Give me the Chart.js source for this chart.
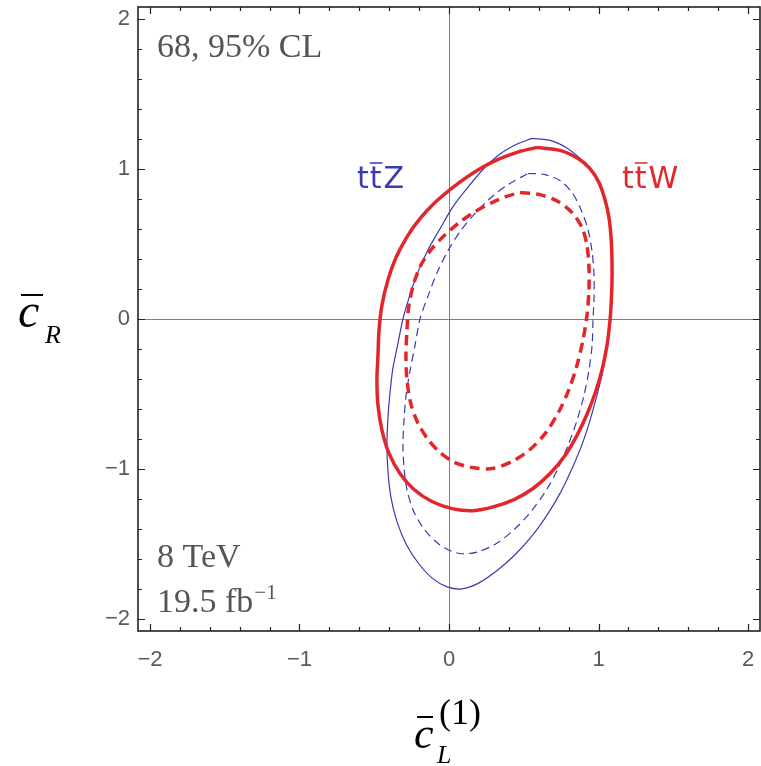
<!DOCTYPE html>
<html>
<head>
<meta charset="utf-8">
<script src="https://cdn.jsdelivr.net/npm/chart.js@4"></script>
<style>
  html, body { margin: 0; padding: 0; background: #fff; }
  #c { display: block; }
</style>
</head>
<body>
<canvas id="c" width="761" height="766"></canvas>
<script>
// contour points, [cL, cR]
const ttW95 = [[0.589,1.144],[0.742,1.124],[0.863,1.070],[0.943,1.003],[1.003,0.910],[1.043,0.796],[1.070,0.676],[1.084,0.542],[1.090,0.395],[1.090,0.247],[1.084,0.094],[1.077,-0.007],[1.057,-0.174],[1.023,-0.341],[0.977,-0.495],[0.923,-0.635],[0.856,-0.776],[0.776,-0.910],[0.676,-1.030],[0.562,-1.130],[0.435,-1.204],[0.301,-1.251],[0.161,-1.278],[0.020,-1.264],[-0.114,-1.217],[-0.234,-1.137],[-0.328,-1.030],[-0.401,-0.896],[-0.448,-0.742],[-0.475,-0.575],[-0.482,-0.408],[-0.475,-0.241],[-0.468,-0.074],[-0.448,0.094],[-0.408,0.261],[-0.355,0.408],[-0.281,0.548],[-0.194,0.669],[-0.087,0.783],[0.033,0.883],[0.167,0.977],[0.314,1.057],[0.475,1.117]];
const ttW68 = [[0.475,0.843],[0.609,0.829],[0.729,0.783],[0.823,0.709],[0.890,0.609],[0.923,0.488],[0.936,0.348],[0.936,0.194],[0.923,0.027],[0.896,-0.140],[0.856,-0.308],[0.803,-0.468],[0.736,-0.615],[0.649,-0.756],[0.542,-0.870],[0.421,-0.950],[0.288,-0.997],[0.154,-0.990],[0.040,-0.957],[-0.060,-0.890],[-0.140,-0.803],[-0.207,-0.696],[-0.254,-0.569],[-0.281,-0.408],[-0.288,-0.247],[-0.281,-0.074],[-0.268,0.094],[-0.234,0.241],[-0.187,0.361],[-0.120,0.462],[-0.033,0.555],[0.067,0.642],[0.174,0.716],[0.288,0.776],[0.381,0.816]];
const ttZ95 = [[0.555,1.204],[0.676,1.191],[0.783,1.144],[0.870,1.077],[0.943,1.003],[1.003,0.910],[1.043,0.796],[1.070,0.676],[1.084,0.542],[1.090,0.395],[1.090,0.247],[1.084,0.094],[1.077,-0.007],[1.057,-0.174],[1.030,-0.341],[0.990,-0.508],[0.943,-0.676],[0.890,-0.836],[0.823,-0.997],[0.749,-1.151],[0.662,-1.298],[0.562,-1.438],[0.448,-1.565],[0.328,-1.672],[0.201,-1.759],[0.087,-1.799],[-0.013,-1.786],[-0.114,-1.726],[-0.207,-1.625],[-0.288,-1.498],[-0.348,-1.351],[-0.388,-1.191],[-0.408,-1.017],[-0.415,-0.836],[-0.408,-0.656],[-0.395,-0.495],[-0.375,-0.328],[-0.341,-0.161],[-0.308,0.000],[-0.261,0.161],[-0.207,0.314],[-0.140,0.462],[-0.060,0.602],[0.027,0.749],[0.120,0.870],[0.221,0.990],[0.328,1.090],[0.435,1.157]];
const ttZ68 = [[0.528,0.970],[0.642,0.963],[0.742,0.923],[0.823,0.843],[0.883,0.729],[0.930,0.595],[0.957,0.448],[0.970,0.294],[0.970,0.140],[0.963,-0.007],[0.957,-0.174],[0.936,-0.341],[0.903,-0.508],[0.856,-0.676],[0.796,-0.843],[0.729,-0.997],[0.649,-1.144],[0.548,-1.284],[0.435,-1.405],[0.314,-1.498],[0.194,-1.552],[0.087,-1.565],[-0.007,-1.538],[-0.087,-1.485],[-0.174,-1.391],[-0.241,-1.271],[-0.281,-1.137],[-0.301,-0.990],[-0.308,-0.836],[-0.301,-0.676],[-0.288,-0.515],[-0.261,-0.348],[-0.227,-0.174],[-0.194,0.000],[-0.140,0.154],[-0.080,0.308],[-0.007,0.455],[0.074,0.582],[0.167,0.696],[0.274,0.803],[0.395,0.896]];

const majorTicks = [-2, -1, 0, 1, 2];
const minorTicks = [-1.8, -1.6, -1.4, -1.2, -0.8, -0.6, -0.4, -0.2, 0.2, 0.4, 0.6, 0.8, 1.2, 1.4, 1.6, 1.8];
const axisMin = -2.08, axisMax = 2.08;

const RED = '#e3262b';
const BLUE = '#3a3ab4';

function loop(pts) {
  const d = pts.map(p => ({ x: p[0], y: p[1] }));
  d.push({ x: pts[0][0], y: pts[0][1] });
  return d;
}

function fmt(v) {
  return v < 0 ? '\u2212' + Math.abs(v) : String(v);
}

// inward ticks on all four sides, plus frame
const frameTicks = {
  id: 'frameTicks',
  afterDatasetsDraw(chart) {
    const ctx = chart.ctx, a = chart.chartArea;
    const xs = chart.scales.x, ys = chart.scales.y;
    ctx.save();
    ctx.strokeStyle = '#222';
    ctx.lineWidth = 1.2;
    function marks(list, len) {
      list.forEach(v => {
        const px = Math.round(xs.getPixelForValue(v)) + 0.5;
        const py = Math.round(ys.getPixelForValue(v)) + 0.5;
        ctx.beginPath();
        ctx.moveTo(px, a.bottom); ctx.lineTo(px, a.bottom - len);
        ctx.moveTo(px, a.top); ctx.lineTo(px, a.top + len);
        ctx.moveTo(a.left, py); ctx.lineTo(a.left + len, py);
        ctx.moveTo(a.right, py); ctx.lineTo(a.right - len, py);
        ctx.stroke();
      });
    }
    marks(majorTicks, 7);
    marks(minorTicks, 4);
    ctx.lineWidth = 1.6;
    ctx.strokeRect(a.left, a.top, a.right - a.left, a.bottom - a.top);
    ctx.restore();
  },
  afterDraw(chart) {
    const ctx = chart.ctx;
    ctx.save();
    ctx.textBaseline = 'alphabetic';
    ctx.textAlign = 'left';

    // corner notes
    ctx.fillStyle = '#555';
    ctx.font = '34px "Liberation Serif"';
    ctx.fillText('68, 95% CL', 157, 57);
    ctx.fillText('8 TeV', 157, 567);
    ctx.fillText('19.5 fb', 157, 612);
    const w = ctx.measureText('19.5 fb').width;
    ctx.font = '21px "Liberation Serif"';
    ctx.fillText('\u22121', 157 + w + 1, 599);

    // process labels
    function proc(txt, x, col) {
      ctx.fillStyle = col;
      ctx.strokeStyle = col;
      ctx.font = '30px "DejaVu Sans"';
      const tw = ctx.measureText('t').width;
      ctx.fillText('t', x, 188);
      ctx.fillText('t', x + tw + 1, 188);
      ctx.fillText(txt, x + 2 * tw + 3, 188);
      ctx.lineWidth = 1.5;
      ctx.beginPath();
      ctx.moveTo(x + tw + 1, 163);
      ctx.lineTo(x + 2 * tw + 2, 163);
      ctx.stroke();
    }
    proc('Z', 357, BLUE);
    proc('W', 622, RED);

    // axis titles
    ctx.fillStyle = '#000';
    ctx.strokeStyle = '#000';
    ctx.lineWidth = 2;
    ctx.font = 'italic 48px "Liberation Serif"';
    ctx.fillText('c', 18, 327);
    ctx.beginPath(); ctx.moveTo(21, 295); ctx.lineTo(43, 295); ctx.stroke();
    ctx.font = 'italic 26px "Liberation Serif"';
    ctx.fillText('R', 45, 343);

    ctx.font = 'italic 44px "Liberation Serif"';
    ctx.fillText('c', 414, 748);
    ctx.beginPath(); ctx.moveTo(417, 717); ctx.lineTo(433, 717); ctx.stroke();
    ctx.font = '36px "Liberation Serif"';
    ctx.fillText('(1)', 439, 724);
    ctx.font = 'italic 26px "Liberation Serif"';
    ctx.fillText('L', 437, 763);
    ctx.restore();
  }
};

function axis(isX) {
  return {
    type: 'linear',
    min: axisMin,
    max: axisMax,
    afterBuildTicks: s => { s.ticks = majorTicks.map(v => ({ value: v })); },
    afterFit: s => {
      if (isX) s.height = 135; else s.width = 138;
      s.paddingLeft = 0; s.paddingRight = 0;
      s.paddingTop = 0; s.paddingBottom = 0;
    },
    border: { display: false },
    grid: {
      drawTicks: false,
      lineWidth: 1,
      color: c => (c.tick && c.tick.value === 0 ? '#808080' : 'rgba(0,0,0,0)')
    },
    ticks: {
      color: '#5a5a5a',
      font: { family: '"Liberation Sans"', size: 22 },
      padding: isX ? 16 : 8,
      maxRotation: 0,
      autoSkip: false,
      callback: v => fmt(v)
    }
  };
}

new Chart(document.getElementById('c').getContext('2d'), {
  type: 'scatter',
  data: {
    datasets: [
      { label: 'ttW 95%', data: loop(ttW95), borderColor: RED, borderWidth: 3.5 },
      { label: 'ttW 68%', data: loop(ttW68), borderColor: RED, borderWidth: 3.5, borderDash: [10, 6] },
      { label: 'ttZ 95%', data: loop(ttZ95), borderColor: BLUE, borderWidth: 1.2 },
      { label: 'ttZ 68%', data: loop(ttZ68), borderColor: BLUE, borderWidth: 1.2, borderDash: [8, 5] }
    ].map(d => Object.assign(d, { showLine: true, fill: false, pointRadius: 0, tension: 0.3 }))
  },
  options: {
    responsive: false,
    animation: false,
    layout: { padding: { left: 0, right: 1, top: 7, bottom: 0 } },
    scales: { x: axis(true), y: axis(false) },
    plugins: { legend: { display: false }, tooltip: { enabled: false } }
  },
  plugins: [frameTicks]
});
</script>
</body>
</html>
